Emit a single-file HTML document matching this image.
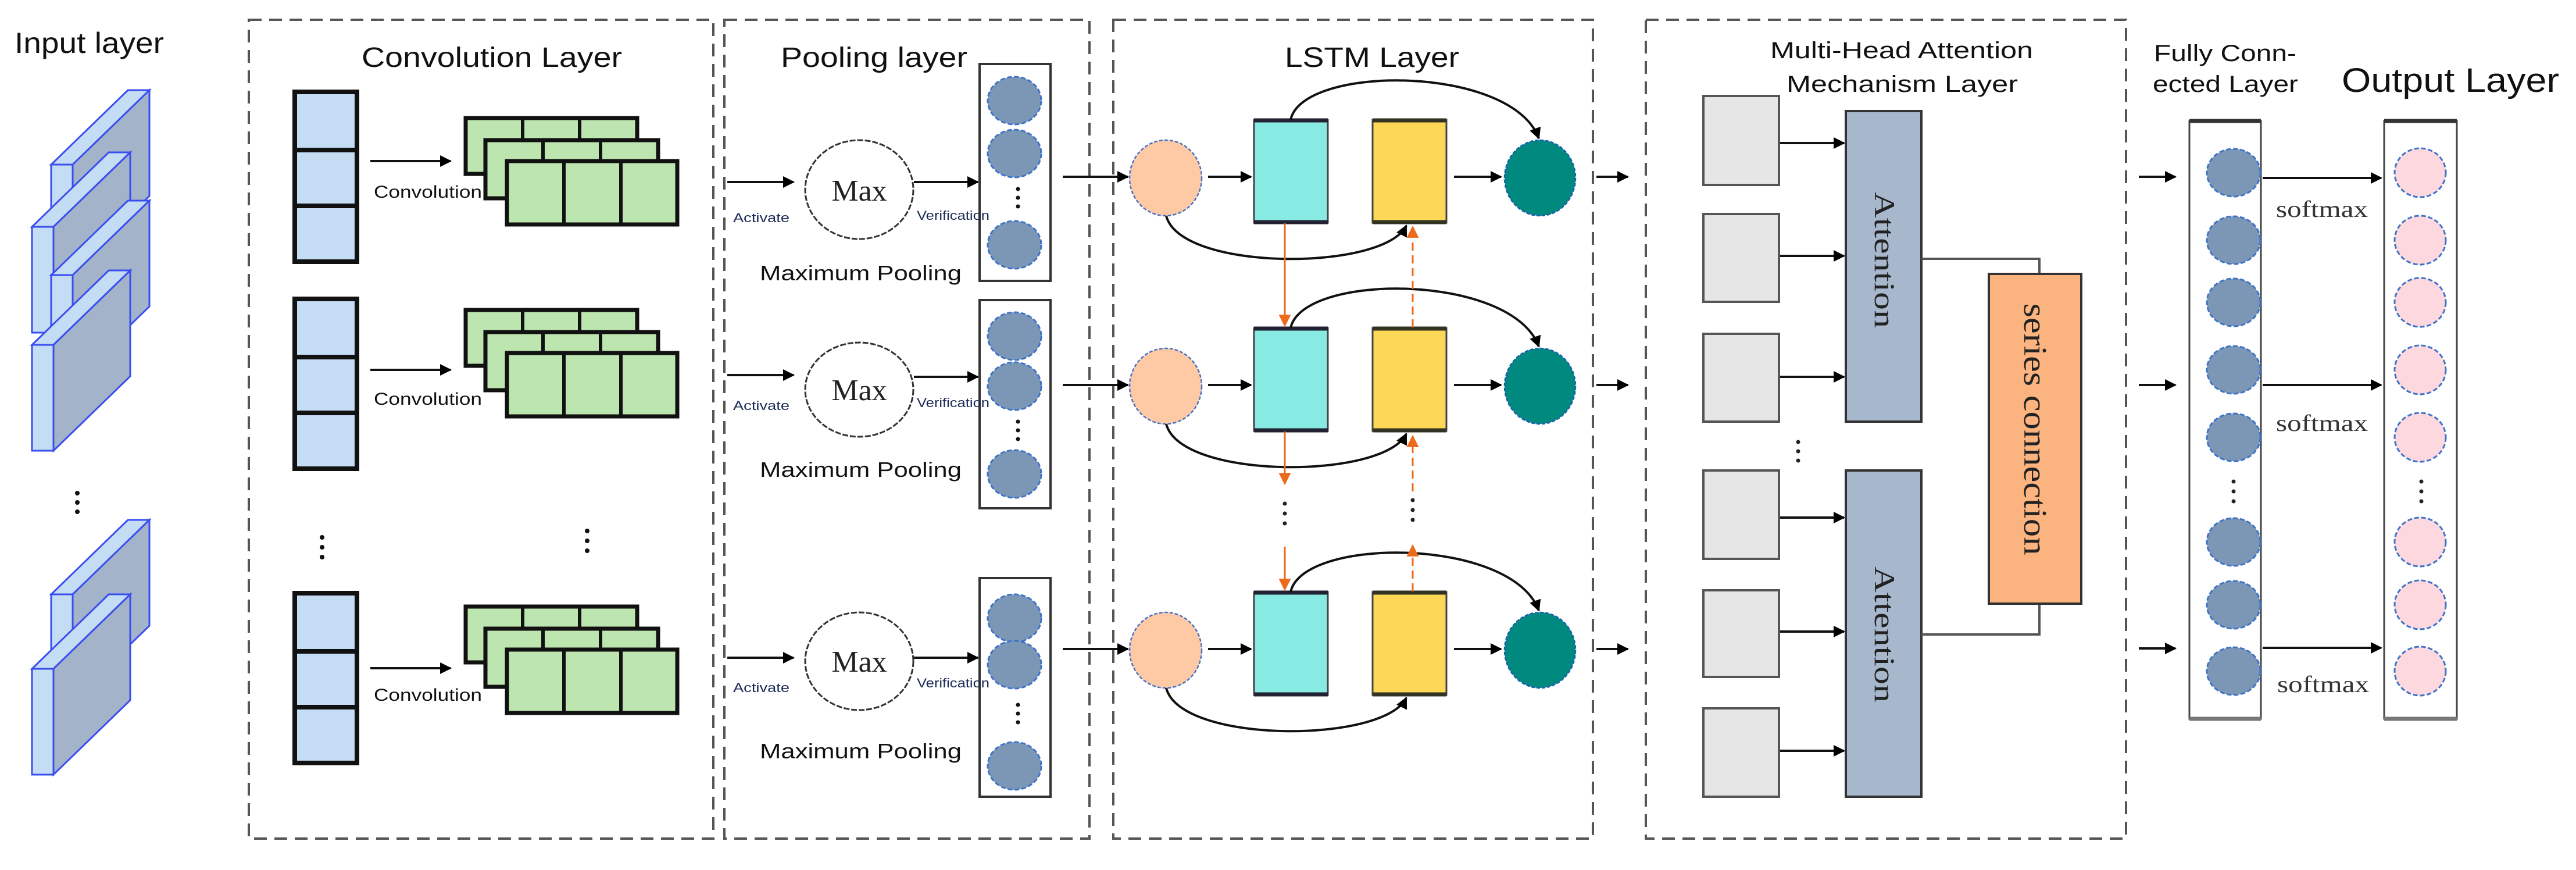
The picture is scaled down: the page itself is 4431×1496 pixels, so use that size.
<!DOCTYPE html>
<html><head><meta charset="utf-8"><style>html,body{margin:0;padding:0;background:#fff}svg{display:block}</style></head>
<body>
<svg width="4431" height="1496" viewBox="0 0 4431 1496" xmlns="http://www.w3.org/2000/svg">
<defs>
<marker id="a" viewBox="0 0 10 10" refX="9" refY="5" markerWidth="5" markerHeight="5" orient="auto"><path d="M0,0L10,5L0,10z" fill="#000"/></marker>
<marker id="o" viewBox="0 0 10 10" refX="9" refY="5" markerWidth="7" markerHeight="7" orient="auto"><path d="M0,0L10,5L0,10z" fill="#ec6a1c"/></marker>
<g id="slab">
<polygon points="0,0 37,0 169,-128 132,-128" fill="#c5dcf5" stroke="#3a4ef0" stroke-width="3"/>
<polygon points="37,0 169,-128 169,54 37,182" fill="#a3b3c9" stroke="#3a4ef0" stroke-width="3"/>
<rect x="0" y="0" width="37" height="182" fill="#c5dcf5" stroke="#3a4ef0" stroke-width="3"/>
</g>
<g id="col">
<rect x="0" y="0" width="107" height="100" fill="#c5dcf5" stroke="#111" stroke-width="8"/>
<rect x="0" y="100" width="107" height="96" fill="#c5dcf5" stroke="#111" stroke-width="8"/>
<rect x="0" y="196" width="107" height="96" fill="#c5dcf5" stroke="#111" stroke-width="8"/>
</g>
<g id="grn">
<rect x="0" y="0" width="295" height="96" fill="#bde5b0" stroke="#111" stroke-width="7"/>
<line x1="98" y1="0" x2="98" y2="96" stroke="#111" stroke-width="6"/><line x1="196" y1="0" x2="196" y2="96" stroke="#111" stroke-width="6"/>
<rect x="34" y="38" width="297" height="100" fill="#bde5b0" stroke="#111" stroke-width="7"/>
<line x1="133" y1="38" x2="133" y2="138" stroke="#111" stroke-width="6"/><line x1="232" y1="38" x2="232" y2="138" stroke="#111" stroke-width="6"/>
<rect x="71" y="74" width="293" height="109" fill="#bde5b0" stroke="#111" stroke-width="7"/>
<line x1="169" y1="74" x2="169" y2="183" stroke="#111" stroke-width="6"/><line x1="267" y1="74" x2="267" y2="183" stroke="#111" stroke-width="6"/>
</g>
<ellipse id="bc" rx="46" ry="41" fill="#7b97b5" stroke="#3f73c8" stroke-width="3" stroke-dasharray="8,4"/>
<ellipse id="pc" rx="44" ry="42" fill="#fdd8df" stroke="#3f73c8" stroke-width="3" stroke-dasharray="8,4"/>
<g id="lstm">
<ellipse cx="2005" cy="306" rx="62" ry="65" fill="#fdcaa5" stroke="#4a72c0" stroke-width="2.5" stroke-dasharray="6,3"/>
<rect x="2157" y="206" width="127" height="177" fill="#87ebe3" stroke="#444" stroke-width="3"/>
<line x1="2157" y1="207" x2="2284" y2="207" stroke="#223" stroke-width="7"/><line x1="2157" y1="382" x2="2284" y2="382" stroke="#223" stroke-width="7"/>
<rect x="2361" y="206" width="127" height="177" fill="#fdd857" stroke="#444" stroke-width="3"/>
<line x1="2361" y1="207" x2="2488" y2="207" stroke="#332" stroke-width="7"/><line x1="2361" y1="382" x2="2488" y2="382" stroke="#332" stroke-width="7"/>
<ellipse cx="2649" cy="306" rx="61" ry="65" fill="#00897f" stroke="#1b5fb0" stroke-width="2.5" stroke-dasharray="6,3"/>
<g stroke="#111" stroke-width="4" fill="none" marker-end="url(#a)">
<line x1="1828" y1="304" x2="1940" y2="304"/>
<line x1="2078" y1="304" x2="2152" y2="304"/>
<line x1="2501" y1="304" x2="2582" y2="304"/>
<line x1="2746" y1="304" x2="2800" y2="304"/>
<path d="M2220,206 C2240,111 2600,111 2647,238"/>
<path d="M2006,371 C2030,467 2380,467 2419,388"/>
</g>
</g>
</defs>

<!-- dashed boxes -->
<g fill="none" stroke="#555" stroke-width="4" stroke-dasharray="22,13">
<rect x="428" y="34" width="799" height="1408"/>
<rect x="1246" y="34" width="628" height="1408"/>
<rect x="1915" y="34" width="825" height="1408"/>
<rect x="2831" y="34" width="826" height="1408"/>
</g>

<!-- titles -->
<g font-family="Liberation Sans, sans-serif" fill="#111">
<text x="25" y="91" font-size="50" textLength="257" lengthAdjust="spacingAndGlyphs">Input layer</text>
<text x="622" y="115" font-size="48" textLength="448" lengthAdjust="spacingAndGlyphs">Convolution Layer</text>
<text x="1343" y="115" font-size="48" textLength="321" lengthAdjust="spacingAndGlyphs">Pooling layer</text>
<text x="2210" y="115" font-size="48" textLength="300" lengthAdjust="spacingAndGlyphs">LSTM Layer</text>
<text x="3045" y="100" font-size="40" textLength="452" lengthAdjust="spacingAndGlyphs">Multi-Head Attention</text>
<text x="3073" y="158" font-size="40" textLength="398" lengthAdjust="spacingAndGlyphs">Mechanism Layer</text>
<text x="3705" y="105" font-size="40" textLength="245" lengthAdjust="spacingAndGlyphs">Fully Conn-</text>
<text x="3703" y="158" font-size="40" textLength="250" lengthAdjust="spacingAndGlyphs">ected Layer</text>
<text x="4028" y="158" font-size="58" textLength="374" lengthAdjust="spacingAndGlyphs">Output Layer</text>
</g>

<!-- input slabs -->
<use href="#slab" x="88" y="283"/>
<use href="#slab" x="55" y="390"/>
<use href="#slab" x="88" y="473"/>
<use href="#slab" x="55" y="593"/>
<use href="#slab" x="88" y="1022"/>
<use href="#slab" x="55" y="1150"/>
<g fill="#111"><circle cx="133" cy="848" r="4"/><circle cx="133" cy="864" r="4"/><circle cx="133" cy="880" r="4"/></g>

<!-- convolution -->
<use href="#col" x="507" y="158"/>
<use href="#col" x="507" y="514"/>
<use href="#col" x="507" y="1020"/>
<use href="#grn" x="801" y="203"/>
<use href="#grn" x="801" y="533"/>
<use href="#grn" x="801" y="1043"/>
<g stroke="#111" stroke-width="4" marker-end="url(#a)">
<line x1="637" y1="277" x2="775" y2="277"/>
<line x1="637" y1="636" x2="775" y2="636"/>
<line x1="637" y1="1149" x2="775" y2="1149"/>
</g>
<g font-family="Liberation Sans, sans-serif" font-size="30" fill="#111">
<text x="643" y="340" textLength="186" lengthAdjust="spacingAndGlyphs">Convolution</text>
<text x="643" y="696" textLength="186" lengthAdjust="spacingAndGlyphs">Convolution</text>
<text x="643" y="1205" textLength="186" lengthAdjust="spacingAndGlyphs">Convolution</text>
</g>
<g fill="#111"><circle cx="554" cy="924" r="4"/><circle cx="554" cy="941" r="4"/><circle cx="554" cy="958" r="4"/>
<circle cx="1010" cy="913" r="4"/><circle cx="1010" cy="930" r="4"/><circle cx="1010" cy="947" r="4"/></g>

<!-- pooling -->
<g fill="#fff" stroke="#333" stroke-width="4">
<rect x="1685" y="110" width="122" height="373"/>
<rect x="1685" y="516" width="122" height="358"/>
<rect x="1685" y="994" width="122" height="376"/>
</g>
<use href="#bc" x="1745" y="173"/><use href="#bc" x="1745" y="264"/><use href="#bc" x="1745" y="421"/>
<use href="#bc" x="1745" y="578"/><use href="#bc" x="1745" y="664"/><use href="#bc" x="1745" y="815"/>
<use href="#bc" x="1745" y="1063"/><use href="#bc" x="1745" y="1143"/><use href="#bc" x="1745" y="1317"/>
<g fill="#111"><circle cx="1751" cy="325" r="3.5"/><circle cx="1751" cy="340" r="3.5"/><circle cx="1751" cy="355" r="3.5"/>
<circle cx="1751" cy="725" r="3.5"/><circle cx="1751" cy="740" r="3.5"/><circle cx="1751" cy="755" r="3.5"/>
<circle cx="1751" cy="1212" r="3.5"/><circle cx="1751" cy="1227" r="3.5"/><circle cx="1751" cy="1242" r="3.5"/></g>
<g fill="#fff" stroke="#333" stroke-width="3" stroke-dasharray="10,3">
<ellipse cx="1478" cy="326" rx="93" ry="85"/>
<ellipse cx="1478" cy="670" rx="93" ry="81"/>
<ellipse cx="1478" cy="1137" rx="93" ry="84"/>
</g>
<g stroke="#111" stroke-width="4" marker-end="url(#a)">
<line x1="1251" y1="313" x2="1365" y2="313"/><line x1="1572" y1="313" x2="1682" y2="313"/>
<line x1="1251" y1="645" x2="1365" y2="645"/><line x1="1572" y1="648" x2="1682" y2="648"/>
<line x1="1251" y1="1131" x2="1365" y2="1131"/><line x1="1572" y1="1131" x2="1682" y2="1131"/>
</g>
<g font-family="Liberation Serif, serif" font-size="52" fill="#222" text-anchor="middle">
<text x="1478" y="345">Max</text><text x="1478" y="688">Max</text><text x="1478" y="1155">Max</text>
</g>
<g font-family="Liberation Sans, sans-serif" font-size="22" fill="#1a2a55">
<text x="1261" y="382" textLength="97" lengthAdjust="spacingAndGlyphs">Activate</text>
<text x="1261" y="705" textLength="97" lengthAdjust="spacingAndGlyphs">Activate</text>
<text x="1261" y="1190" textLength="97" lengthAdjust="spacingAndGlyphs">Activate</text>
<text x="1577" y="378" textLength="125" lengthAdjust="spacingAndGlyphs">Verification</text>
<text x="1577" y="700" textLength="125" lengthAdjust="spacingAndGlyphs">Verification</text>
<text x="1577" y="1182" textLength="125" lengthAdjust="spacingAndGlyphs">Verification</text>
</g>
<g font-family="Liberation Sans, sans-serif" font-size="36" fill="#111">
<text x="1307" y="482" textLength="347" lengthAdjust="spacingAndGlyphs">Maximum Pooling</text>
<text x="1307" y="820" textLength="347" lengthAdjust="spacingAndGlyphs">Maximum Pooling</text>
<text x="1307" y="1304" textLength="347" lengthAdjust="spacingAndGlyphs">Maximum Pooling</text>
</g>

<!-- LSTM -->
<use href="#lstm"/>
<use href="#lstm" y="358"/>
<use href="#lstm" y="812"/>
<g stroke="#ec6a1c" stroke-width="3" fill="none">
<line x1="2210" y1="384" x2="2210" y2="560" marker-end="url(#o)"/>
<line x1="2430" y1="563" x2="2430" y2="390" stroke-dasharray="14,8" marker-end="url(#o)"/>
<line x1="2210" y1="742" x2="2210" y2="832" marker-end="url(#o)"/>
<line x1="2210" y1="940" x2="2210" y2="1014" marker-end="url(#o)"/>
<line x1="2430" y1="1017" x2="2430" y2="938" stroke-dasharray="14,8" marker-end="url(#o)"/>
<line x1="2430" y1="845" x2="2430" y2="750" stroke-dasharray="14,8" marker-end="url(#o)"/>
</g>
<g fill="#222"><circle cx="2210" cy="866" r="3.5"/><circle cx="2210" cy="883" r="3.5"/><circle cx="2210" cy="900" r="3.5"/>
<circle cx="2430" cy="860" r="3.5"/><circle cx="2430" cy="877" r="3.5"/><circle cx="2430" cy="894" r="3.5"/></g>

<!-- attention -->
<g fill="#e6e6e6" stroke="#555" stroke-width="4">
<rect x="2930" y="165" width="130" height="153"/>
<rect x="2930" y="368" width="130" height="151"/>
<rect x="2930" y="574" width="130" height="151"/>
<rect x="2930" y="809" width="130" height="152"/>
<rect x="2930" y="1015" width="130" height="149"/>
<rect x="2930" y="1218" width="130" height="152"/>
</g>
<g fill="#a8b8cc" stroke="#333" stroke-width="4">
<rect x="3175" y="191" width="130" height="534"/>
<rect x="3175" y="809" width="130" height="561"/>
</g>
<g stroke="#111" stroke-width="4" marker-end="url(#a)">
<line x1="3062" y1="246" x2="3172" y2="246"/><line x1="3062" y1="440" x2="3172" y2="440"/><line x1="3062" y1="648" x2="3172" y2="648"/>
<line x1="3062" y1="890" x2="3172" y2="890"/><line x1="3062" y1="1086" x2="3172" y2="1086"/><line x1="3062" y1="1291" x2="3172" y2="1291"/>
</g>
<g fill="#222"><circle cx="3093" cy="760" r="3.5"/><circle cx="3093" cy="776" r="3.5"/><circle cx="3093" cy="792" r="3.5"/></g>
<g fill="none" stroke="#555" stroke-width="4">
<polyline points="3305,445 3508,445 3508,471"/>
<polyline points="3305,1091 3508,1091 3508,1038"/>
</g>
<rect x="3421" y="471" width="159" height="567" fill="#fbb47f" stroke="#333" stroke-width="4"/>
<g font-family="Liberation Serif, serif" fill="#222">
<text transform="translate(3225,447) rotate(90)" font-size="50" text-anchor="middle" textLength="234" lengthAdjust="spacingAndGlyphs">Attention</text>
<text transform="translate(3225,1091) rotate(90)" font-size="50" text-anchor="middle" textLength="234" lengthAdjust="spacingAndGlyphs">Attention</text>
<text transform="translate(3482,738) rotate(90)" font-size="56" text-anchor="middle" textLength="433" lengthAdjust="spacingAndGlyphs">series connection</text>
</g>

<!-- FC and output -->
<g fill="#fff" stroke="#444" stroke-width="3">
<rect x="3766" y="208" width="123" height="1028"/>
<rect x="4101" y="208" width="125" height="1028"/>
</g>
<g stroke="#333" stroke-width="7"><line x1="3766" y1="208" x2="3889" y2="208"/><line x1="4101" y1="208" x2="4226" y2="208"/>
<line x1="3766" y1="1236" x2="3889" y2="1236" stroke="#777"/><line x1="4101" y1="1236" x2="4226" y2="1236" stroke="#777"/></g>
<use href="#bc" x="3842" y="297"/><use href="#bc" x="3842" y="413"/><use href="#bc" x="3842" y="520"/><use href="#bc" x="3842" y="636"/><use href="#bc" x="3842" y="752"/>
<use href="#bc" x="3842" y="932"/><use href="#bc" x="3842" y="1040"/><use href="#bc" x="3842" y="1154"/>
<use href="#pc" x="4163" y="297"/><use href="#pc" x="4163" y="413"/><use href="#pc" x="4163" y="520"/><use href="#pc" x="4163" y="636"/><use href="#pc" x="4163" y="752"/>
<use href="#pc" x="4163" y="932"/><use href="#pc" x="4163" y="1040"/><use href="#pc" x="4163" y="1154"/>
<g fill="#222"><circle cx="3842" cy="828" r="3.5"/><circle cx="3842" cy="845" r="3.5"/><circle cx="3842" cy="862" r="3.5"/>
<circle cx="4165" cy="828" r="3.5"/><circle cx="4165" cy="845" r="3.5"/><circle cx="4165" cy="862" r="3.5"/></g>
<g stroke="#111" stroke-width="4" marker-end="url(#a)">
<line x1="3679" y1="304" x2="3742" y2="304"/><line x1="3679" y1="662" x2="3742" y2="662"/><line x1="3679" y1="1115" x2="3742" y2="1115"/>
<line x1="3892" y1="306" x2="4096" y2="306"/><line x1="3892" y1="662" x2="4096" y2="662"/><line x1="3892" y1="1114" x2="4096" y2="1114"/>
</g>
<g font-family="Liberation Serif, serif" font-size="40" fill="#333">
<text x="3915" y="373" textLength="158" lengthAdjust="spacingAndGlyphs">softmax</text>
<text x="3915" y="741" textLength="158" lengthAdjust="spacingAndGlyphs">softmax</text>
<text x="3917" y="1190" textLength="158" lengthAdjust="spacingAndGlyphs">softmax</text>
</g>
</svg>
</body></html>
